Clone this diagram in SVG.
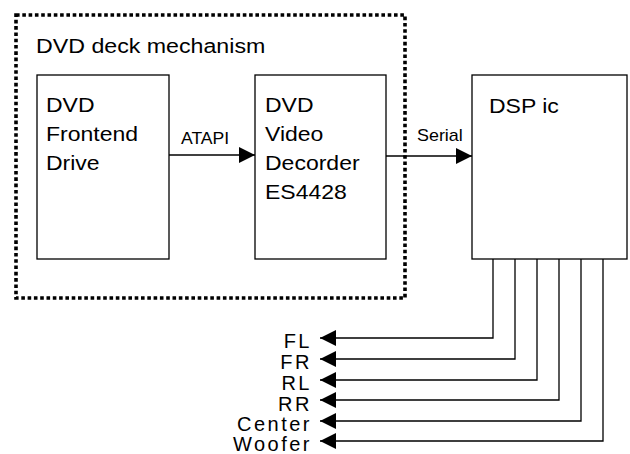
<svg xmlns="http://www.w3.org/2000/svg" width="630" height="454" viewBox="0 0 630 454">
<style>
.box{fill:#fff;stroke:#000;stroke-width:1.3}
.big{font-family:"Liberation Sans",Arial,sans-serif;font-size:20px;fill:#000}
.sm{font-family:"Liberation Sans",Arial,sans-serif;font-size:16px;fill:#000}
.out{font-family:"Liberation Sans",Arial,sans-serif;font-size:20px;letter-spacing:2.5px;fill:#000;text-anchor:end}
.ln{fill:none;stroke:#000;stroke-width:1.3}
</style>
<defs>
<marker id="ah" viewBox="0 0 16 16" refX="16" refY="8" markerWidth="16" markerHeight="16" markerUnits="userSpaceOnUse" orient="auto">
<path d="M0,0 L16,8 L0,16 Z" fill="#000"/>
</marker>
</defs>
<g id="deck">
<rect x="16" y="15" width="389" height="283" fill="none" stroke="#000" stroke-width="3.6" stroke-dasharray="3.6 2.7"/>
<text class="big" transform="translate(36,53) scale(1.16,1)">DVD deck mechanism</text>
</g>
<g id="frontend">
<rect class="box" x="37" y="75" width="132" height="184"/>
<text class="big" transform="translate(46,112) scale(1.15,1)">DVD</text>
<text class="big" transform="translate(46,141) scale(1.15,1)">Frontend</text>
<text class="big" transform="translate(46,170) scale(1.15,1)">Drive</text>
</g>
<g id="decoder">
<rect class="box" x="255" y="75" width="131" height="184"/>
<text class="big" transform="translate(265,112) scale(1.15,1)">DVD</text>
<text class="big" transform="translate(265,141) scale(1.15,1)">Video</text>
<text class="big" transform="translate(265,170) scale(1.15,1)">Decorder</text>
<text class="big" transform="translate(265,199) scale(1.15,1)">ES4428</text>
</g>
<g id="dsp">
<rect class="box" x="472" y="75" width="155" height="184"/>
<text class="big" transform="translate(489,113) scale(1.15,1)">DSP ic</text>
</g>
<g id="connectors">
<line class="ln" x1="169" y1="155" x2="255" y2="155" marker-end="url(#ah)"/>
<text class="sm" transform="translate(181,144) scale(1.1,1)">ATAPI</text>
<line class="ln" x1="386" y1="156" x2="472" y2="156" marker-end="url(#ah)"/>
<text class="sm" transform="translate(417,141) scale(1.12,1)">Serial</text>
<polyline class="ln" points="493,259 493,338 320,338" marker-end="url(#ah)"/>
<polyline class="ln" points="515,259 515,359 320,359" marker-end="url(#ah)"/>
<polyline class="ln" points="537,259 537,380 320,380" marker-end="url(#ah)"/>
<polyline class="ln" points="559,259 559,400 320,400" marker-end="url(#ah)"/>
<polyline class="ln" points="581,259 581,421 320,421" marker-end="url(#ah)"/>
<polyline class="ln" points="603,259 603,441 320,441" marker-end="url(#ah)"/>
<text class="out" x="312" y="348">FL</text>
<text class="out" x="312" y="369">FR</text>
<text class="out" x="312" y="390">RL</text>
<text class="out" x="312" y="411">RR</text>
<text class="out" x="312" y="431">Center</text>
<text class="out" x="312" y="451">Woofer</text>
</g>
</svg>
